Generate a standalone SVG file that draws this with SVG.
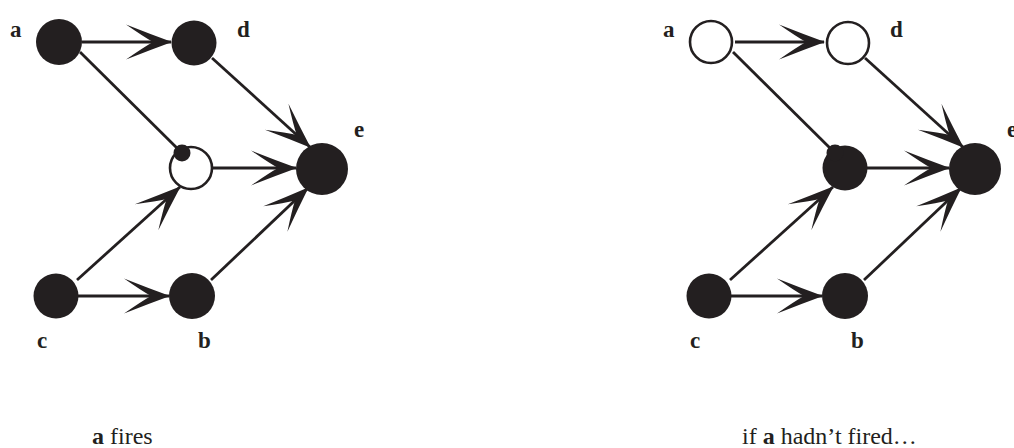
<svg xmlns="http://www.w3.org/2000/svg" width="1014" height="448" viewBox="0 0 1014 448">
  <style>
    .fill { fill: #231f20; }
    .open { fill: #ffffff; stroke: #231f20; stroke-width: 2.6; }
    .edge { stroke: #231f20; stroke-width: 2.8; fill: none; }
    .arrow { marker-end: url(#barb); }
    .lbl { font-family: "Liberation Serif", "Times New Roman", serif; font-weight: bold; font-size: 23px; fill: #231f20; }
    .cap { font-family: "Liberation Serif", "Times New Roman", serif; font-size: 24px; fill: #231f20; }
    .cap tspan.b { font-weight: bold; }
  </style>
  <defs>
    <marker id="barb" viewBox="-48 -20 50 40" refX="0" refY="0" markerWidth="50" markerHeight="40" markerUnits="userSpaceOnUse" orient="auto">
      <path d="M1,0 Q-21,-8 -45,-17.5 Q-27,-5 -18,0 Q-27,5 -45,17.5 Q-21,8 1,0 Z" fill="#231f20"/>
    </marker>
  </defs>
  <rect width="1014" height="448" fill="#ffffff"/>

  <!-- Left panel: a fires -->
  <g id="connectors-left">
    <line class="edge arrow" x1="82" y1="42" x2="171" y2="42"/>
    <line class="edge" x1="80" y1="52" x2="182" y2="153"/>
    <line class="edge arrow" x1="212" y1="58" x2="310" y2="147"/>
    <line class="edge arrow" x1="213" y1="168" x2="296" y2="168"/>
    <line class="edge arrow" x1="77" y1="280" x2="180" y2="187"/>
    <line class="edge arrow" x1="211" y1="280" x2="308" y2="188"/>
    <line class="edge arrow" x1="78" y1="296" x2="169" y2="296"/>
  </g>
  <g id="L-a"><circle class="fill" cx="59" cy="42" r="23"/><text class="lbl" x="10" y="37">a</text></g>
  <g id="L-d"><circle class="fill" cx="194" cy="43" r="22.5"/><text class="lbl" x="237" y="37">d</text></g>
  <g id="L-m"><circle class="open" cx="191" cy="168" r="21"/><circle class="fill" cx="182" cy="153" r="8.5"/></g>
  <g id="L-e"><circle class="fill" cx="322" cy="169" r="26"/><text class="lbl" x="354" y="137">e</text></g>
  <g id="L-c"><circle class="fill" cx="56" cy="296" r="22.5"/><text class="lbl" x="37" y="348">c</text></g>
  <g id="L-b"><circle class="fill" cx="192" cy="296" r="23"/><text class="lbl" x="198" y="348">b</text></g>
  <text class="cap" x="92" y="444"><tspan class="b">a</tspan> fires</text>

  <!-- Right panel: if a hadn't fired -->
  <g id="connectors-right">
    <line class="edge arrow" x1="735" y1="42" x2="824" y2="42"/>
    <line class="edge" x1="733" y1="52" x2="835" y2="153"/>
    <line class="edge arrow" x1="865" y1="58" x2="963" y2="147"/>
    <line class="edge arrow" x1="866" y1="168" x2="949" y2="168"/>
    <line class="edge arrow" x1="730" y1="280" x2="833" y2="187"/>
    <line class="edge arrow" x1="864" y1="280" x2="961" y2="188"/>
    <line class="edge arrow" x1="731" y1="296" x2="822" y2="296"/>
  </g>
  <g id="R-a"><circle class="open" cx="711" cy="42" r="21"/><text class="lbl" x="663" y="37">a</text></g>
  <g id="R-d"><circle class="open" cx="848" cy="43" r="21"/><text class="lbl" x="890" y="37">d</text></g>
  <g id="R-m"><circle class="fill" cx="845" cy="168" r="22.5"/><circle class="fill" cx="835" cy="153" r="8.5"/></g>
  <g id="R-e"><circle class="fill" cx="975" cy="169" r="26"/><text class="lbl" x="1007" y="137">e</text></g>
  <g id="R-c"><circle class="fill" cx="709" cy="296" r="22.5"/><text class="lbl" x="690" y="348">c</text></g>
  <g id="R-b"><circle class="fill" cx="845" cy="296" r="23"/><text class="lbl" x="851" y="348">b</text></g>
  <text class="cap" x="742" y="444">if <tspan class="b">a</tspan> hadn’t fired…</text>
</svg>
